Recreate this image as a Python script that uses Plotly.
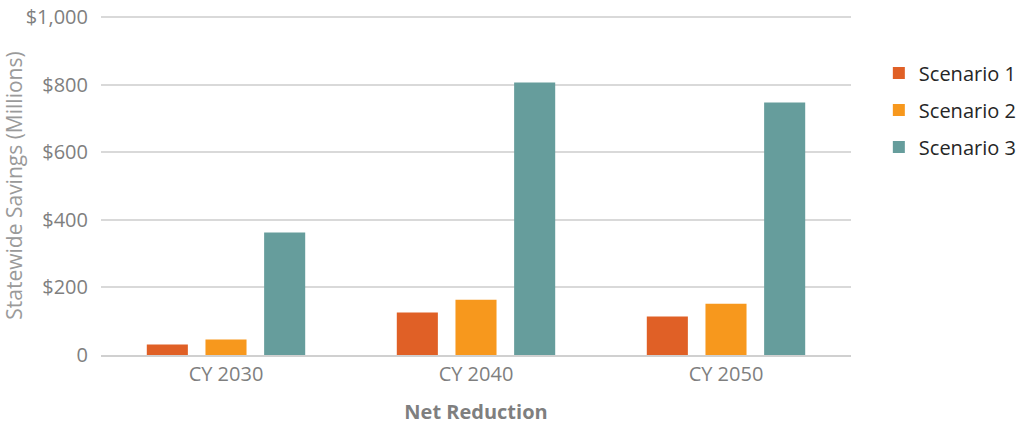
import plotly.graph_objects as go

categories = ["CY 2030", "CY 2040", "CY 2050"]
scenario1 = [31, 126, 114]
scenario2 = [46, 164, 152]
scenario3 = [363, 807, 748]
series_names = ["Scenario 1", "Scenario 2", "Scenario 3"]
colors = ["#E06026", "#F7981D", "#669D9C"]
tick_vals = [0, 200, 400, 600, 800, 1000]
tick_text = ["0", "$200", "$400", "$600", "$800", "$1,000"]

FONT = "Open Sans"
fig = go.Figure()
for i, (name, vals) in enumerate(zip(series_names, [scenario1, scenario2, scenario3])):
    fig.add_trace(go.Bar(x=categories, y=vals, name=name, marker_color=colors[i],
                         marker_line_width=0, legendgroup=f"g{i}"))

fig.update_layout(
    width=1016, height=425,
    margin=dict(l=101, r=165, t=16, b=70),
    paper_bgcolor="white", plot_bgcolor="white",
    barmode="group", bargap=0.296, bargroupgap=0.30,
    font=dict(family=FONT, color="#7f7f7f", size=16),
    legend=dict(xref="container", yref="container", x=0.865, y=0.874,
                xanchor="left", yanchor="top",
                font=dict(family=FONT, size=20, color="#262626"),
                tracegroupgap=8, itemwidth=30),
    xaxis=dict(showgrid=False, showline=True, linecolor="#d0d0d0", linewidth=2,
               ticks="", automargin=False, tickfont=dict(size=20, color="#7f7f7f"),
               title=dict(text="<b>Net Reduction</b>", font=dict(size=20, color="#7f7f7f"), standoff=26)),
    yaxis=dict(range=[0, 1004], tickvals=tick_vals, ticktext=tick_text,
               showgrid=True, gridcolor="#d9d9d9", gridwidth=2, zeroline=False,
               ticks="", automargin=False, ticklabelstandoff=12, tickfont=dict(size=20, color="#7f7f7f"),
               title=dict(text="Statewide Savings (Millions)", font=dict(size=21, color="#9a9a9a"), standoff=6)),
)
fig.write_html("out.html")
